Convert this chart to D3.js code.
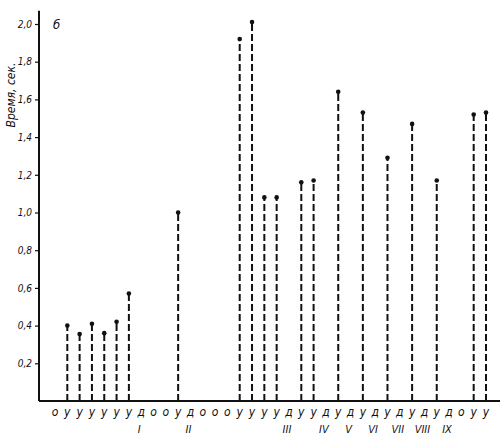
<!DOCTYPE html>
<html>
<head>
<meta charset="utf-8">
<script src="https://cdn.jsdelivr.net/npm/d3@7"></script>
<style>
  body { margin: 0; background: #fff; }
  svg text { font-family: "DejaVu Sans Condensed", "Liberation Sans Narrow", sans-serif; font-style: italic; fill: #111; }
</style>
</head>
<body>
<svg id="chart" width="500" height="436"></svg>
<script>
// letters under the axis (о, у, д) and the measured time above each "у"
const letters = ["о","у","у","у","у","у","у","д","о","о","у","д","о","о","о","у","у","у","у","д",
                 "у","у","д","у","д","у","д","у","д","у","д","у","д","о","у","у"];
const times = [null, 0.40, 0.355, 0.41, 0.36, 0.42, 0.57, null, null, null, 1.0, null, null, null, null,
               1.92, 2.01, 1.08, 1.08, null, 1.16, 1.17, null, 1.64, null, 1.53, null, 1.29, null, 1.47,
               null, 1.17, null, null, 1.52, 1.53];
// series numbers, one per "д"
const series = ["I","II","III","IV","V","VI","VII","VIII","IX"];
const yTicks = [0.2, 0.4, 0.6, 0.8, 1.0, 1.2, 1.4, 1.6, 1.8, 2.0];

let svg = d3.select("#chart");
let x = d3.scalePoint().domain(d3.range(letters.length)).range([55, 486]);
let y = d3.scaleLinear().domain([0, 2.0]).range([401, 24]);
let axisX0 = 39;

// y axis
let yAxis = svg.append("g").attr("transform", "translate(" + axisX0 + ",0)");
yAxis.call(d3.axisLeft(y).tickValues(yTicks).tickSize(4).tickPadding(3)
    .tickFormat(d => d3.format(".1f")(d).replace(".", ",")));
yAxis.select(".domain").remove();
yAxis.selectAll(".tick line").attr("stroke", "#111").attr("stroke-width", 1.2);
yAxis.selectAll(".tick text").attr("font-size", 10).attr("font-family", null);
svg.append("line").attr("x1", axisX0).attr("x2", axisX0)
   .attr("y1", y(0)).attr("y2", y(2.07))
   .attr("stroke", "#111").attr("stroke-width", 2);

// baseline
svg.append("line").attr("x1", axisX0).attr("x2", 500)
   .attr("y1", y(0)).attr("y2", y(0))
   .attr("stroke", "#111").attr("stroke-width", 2);

// stems
let pts = times.map((v, i) => ({i: i, v: v})).filter(d => d.v !== null);
svg.selectAll("line.stem").data(pts).enter().append("line")
   .attr("class", "stem")
   .attr("x1", d => x(d.i)).attr("x2", d => x(d.i))
   .attr("y1", y(0)).attr("y2", d => y(d.v))
   .attr("stroke", "#111").attr("stroke-width", 2)
   .attr("stroke-dasharray", "7,3");
svg.selectAll("circle.dot").data(pts).enter().append("circle")
   .attr("class", "dot")
   .attr("cx", d => x(d.i)).attr("cy", d => y(d.v)).attr("r", 2.3)
   .attr("fill", "#111");

// letters
svg.selectAll("text.letter").data(letters).enter().append("text")
   .attr("class", "letter")
   .attr("x", (d, i) => x(i)).attr("y", 416)
   .attr("text-anchor", "middle").attr("font-size", 12)
   .text(d => d);

// series numerals under each "д"
let dIdx = letters.map((d, i) => d === "д" ? i : -1).filter(i => i >= 0);
svg.selectAll("text.ser").data(series).enter().append("text")
   .attr("class", "ser")
   .attr("x", (d, k) => x(dIdx[k]) - 2).attr("y", 433)
   .attr("text-anchor", "middle").attr("font-size", 11)
   .text(d => d);

// axis title and panel letter
svg.append("text").attr("transform", "translate(15,95) rotate(-90)")
   .attr("text-anchor", "middle").attr("font-size", 12)
   .text("Время, сек.");
svg.append("text").attr("x", 53).attr("y", 29).attr("font-size", 13).text("б");
</script>
</body>
</html>
